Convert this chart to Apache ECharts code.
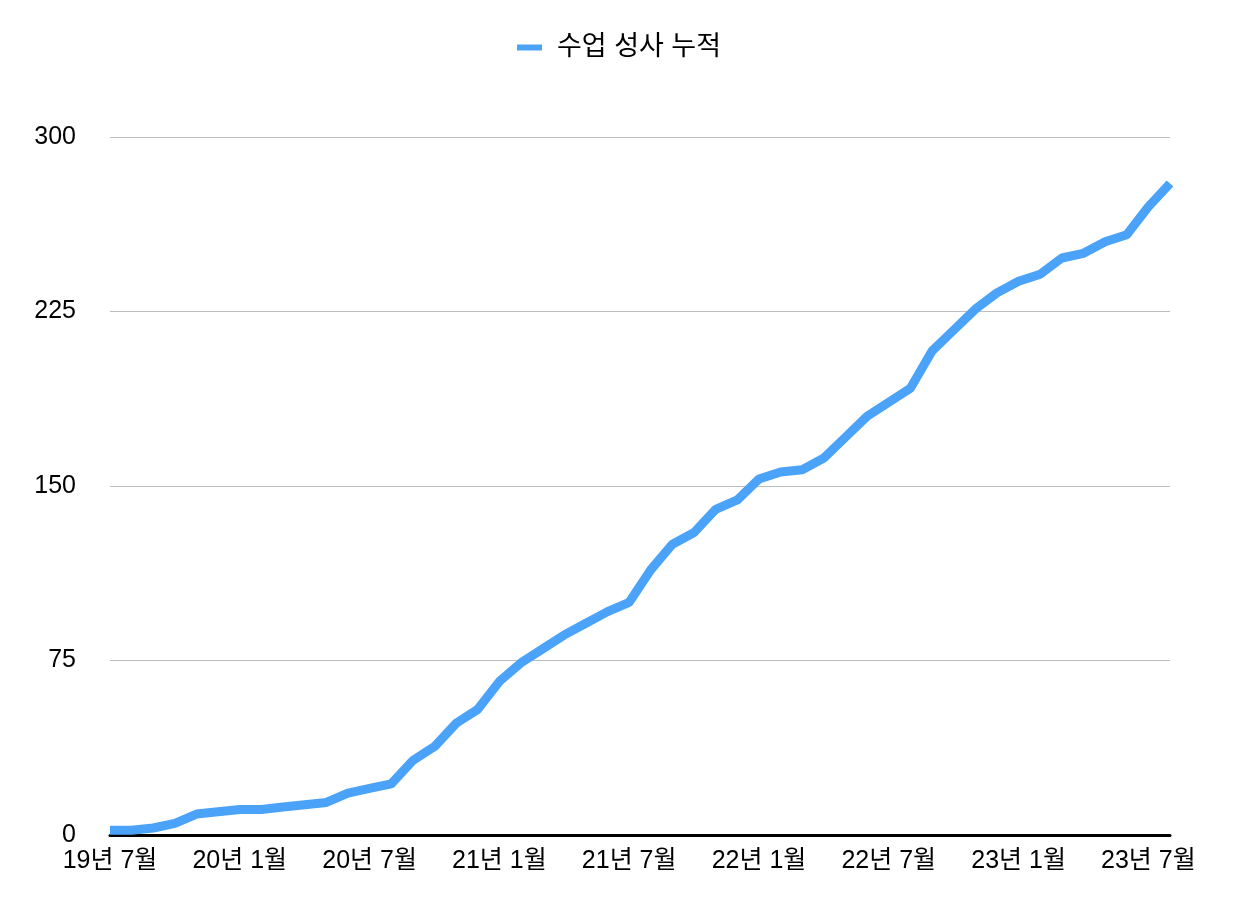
<!DOCTYPE html>
<html lang="ko">
<head>
    <meta charset="UTF-8">
    <title>수업 성사 누적</title>
    <script src="https://cdn.jsdelivr.net/npm/echarts@6.0.0/dist/echarts.min.js"></script>
    <style>
        html, body { margin: 0; padding: 0; background: #fff; }
        #chart { width: 1238px; height: 902px; }
    </style>
</head>
<body>
    <div id="chart"></div>
    <script>
        // monthly categories, 19년 7월 .. 23년 8월
        var months = [
            '19년 7월', '19년 8월', '19년 9월', '19년 10월', '19년 11월', '19년 12월',
            '20년 1월', '20년 2월', '20년 3월', '20년 4월', '20년 5월', '20년 6월',
            '20년 7월', '20년 8월', '20년 9월', '20년 10월', '20년 11월', '20년 12월',
            '21년 1월', '21년 2월', '21년 3월', '21년 4월', '21년 5월', '21년 6월',
            '21년 7월', '21년 8월', '21년 9월', '21년 10월', '21년 11월', '21년 12월',
            '22년 1월', '22년 2월', '22년 3월', '22년 4월', '22년 5월', '22년 6월',
            '22년 7월', '22년 8월', '22년 9월', '22년 10월', '22년 11월', '22년 12월',
            '23년 1월', '23년 2월', '23년 3월', '23년 4월', '23년 5월', '23년 6월',
            '23년 7월', '23년 8월'
        ];
        var cumulative = [
            2, 2, 3, 5, 9, 10, 11, 11, 12, 13,
            14, 18, 20, 22, 32, 38, 48, 54, 66, 74,
            80, 86, 91, 96, 100, 114, 125, 130, 140, 144,
            153, 156, 157, 162, 171, 180, 186, 192, 208, 217,
            226, 233, 238, 241, 248, 250, 255, 258, 270, 280
        ];
        var yTicks = [0, 75, 150, 225, 300];
        var seriesName = '수업 성사 누적';

        var font = '"Liberation Sans", "Noto Sans CJK KR", sans-serif';
        var chart = echarts.init(document.getElementById('chart'));
        var option = {
            animation: false,
            textStyle: { fontFamily: font },
            legend: {
                top: 29,
                left: 'center',
                icon: 'rect',
                itemWidth: 25,
                itemHeight: 6,
                itemGap: 10,
                textStyle: { fontSize: 27, color: '#000', fontFamily: font, padding: [2, 0, 0, 10] },
                data: [seriesName]
            },
            grid: { left: 110, right: 68, top: 137, bottom: 67 },
            xAxis: {
                type: 'category',
                boundaryGap: false,
                data: months,
                axisLine: { lineStyle: { color: '#000', width: 3 } },
                axisTick: { show: false },
                axisLabel: {
                    interval: 5,
                    fontSize: 25,
                    color: '#000',
                    margin: 14,
                    fontFamily: font
                },
                splitLine: { show: false }
            },
            yAxis: {
                type: 'value',
                min: yTicks[0],
                max: yTicks[yTicks.length - 1],
                interval: 75,
                axisLine: { show: false },
                axisTick: { show: false },
                axisLabel: { fontSize: 25, color: '#000', margin: 34, fontFamily: font, padding: [8, 0, 0, 0] },
                splitLine: { lineStyle: { color: '#bdbdbd', width: 1 } }
            },
            series: [{
                name: seriesName,
                type: 'line',
                data: cumulative,
                showSymbol: false,
                lineStyle: { width: 9, color: '#4aa2f9' },
                itemStyle: { color: '#4aa2f9' }
            }]
        };
        chart.setOption(option);
    </script>
</body>
</html>
